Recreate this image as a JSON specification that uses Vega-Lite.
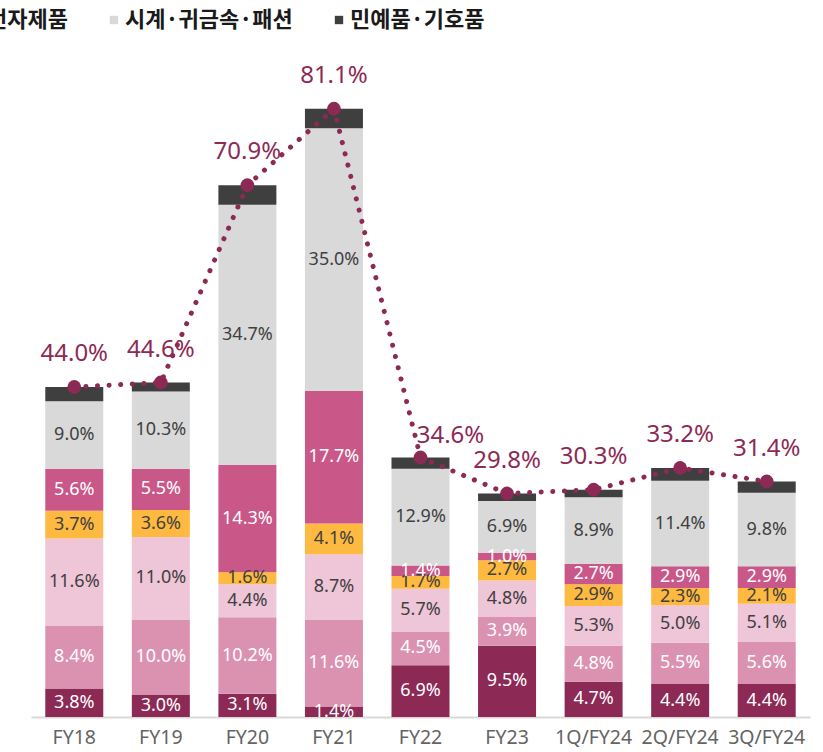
{
  "$schema": "https://vega.github.io/schema/vega-lite/v6.json",
  "width": 779,
  "height": 675,
  "autosize": {"type": "none"},
  "padding": {"left": 31, "top": 42, "right": 13, "bottom": 35},
  "background": "white",
  "config": {"view": {"stroke": null}, "font": "Noto Sans"},
  "datasets": {
    "seg": [
      {"p": "FY18", "s": "화장품·향수", "v": 3.8},
      {"p": "FY18", "s": "식품·음료·주류", "v": 8.4},
      {"p": "FY18", "s": "의약품·건강", "v": 11.6},
      {"p": "FY18", "s": "의류·잡화", "v": 3.7},
      {"p": "FY18", "s": "전자제품", "v": 5.6},
      {"p": "FY18", "s": "시계·귀금속·패션", "v": 9.0},
      {"p": "FY18", "s": "민예품·기호품", "v": 1.9},
      {"p": "FY19", "s": "화장품·향수", "v": 3.0},
      {"p": "FY19", "s": "식품·음료·주류", "v": 10.0},
      {"p": "FY19", "s": "의약품·건강", "v": 11.0},
      {"p": "FY19", "s": "의류·잡화", "v": 3.6},
      {"p": "FY19", "s": "전자제품", "v": 5.5},
      {"p": "FY19", "s": "시계·귀금속·패션", "v": 10.3},
      {"p": "FY19", "s": "민예품·기호품", "v": 1.2},
      {"p": "FY20", "s": "화장품·향수", "v": 3.1},
      {"p": "FY20", "s": "식품·음료·주류", "v": 10.2},
      {"p": "FY20", "s": "의약품·건강", "v": 4.4},
      {"p": "FY20", "s": "의류·잡화", "v": 1.6},
      {"p": "FY20", "s": "전자제품", "v": 14.3},
      {"p": "FY20", "s": "시계·귀금속·패션", "v": 34.7},
      {"p": "FY20", "s": "민예품·기호품", "v": 2.6},
      {"p": "FY21", "s": "화장품·향수", "v": 1.4},
      {"p": "FY21", "s": "식품·음료·주류", "v": 11.6},
      {"p": "FY21", "s": "의약품·건강", "v": 8.7},
      {"p": "FY21", "s": "의류·잡화", "v": 4.1},
      {"p": "FY21", "s": "전자제품", "v": 17.7},
      {"p": "FY21", "s": "시계·귀금속·패션", "v": 35.0},
      {"p": "FY21", "s": "민예품·기호품", "v": 2.6},
      {"p": "FY22", "s": "화장품·향수", "v": 6.9},
      {"p": "FY22", "s": "식품·음료·주류", "v": 4.5},
      {"p": "FY22", "s": "의약품·건강", "v": 5.7},
      {"p": "FY22", "s": "의류·잡화", "v": 1.7},
      {"p": "FY22", "s": "전자제품", "v": 1.4},
      {"p": "FY22", "s": "시계·귀금속·패션", "v": 12.9},
      {"p": "FY22", "s": "민예품·기호품", "v": 1.5},
      {"p": "FY23", "s": "화장품·향수", "v": 9.5},
      {"p": "FY23", "s": "식품·음료·주류", "v": 3.9},
      {"p": "FY23", "s": "의약품·건강", "v": 4.8},
      {"p": "FY23", "s": "의류·잡화", "v": 2.7},
      {"p": "FY23", "s": "전자제품", "v": 1.0},
      {"p": "FY23", "s": "시계·귀금속·패션", "v": 6.9},
      {"p": "FY23", "s": "민예품·기호품", "v": 1.0},
      {"p": "1Q/FY24", "s": "화장품·향수", "v": 4.7},
      {"p": "1Q/FY24", "s": "식품·음료·주류", "v": 4.8},
      {"p": "1Q/FY24", "s": "의약품·건강", "v": 5.3},
      {"p": "1Q/FY24", "s": "의류·잡화", "v": 2.9},
      {"p": "1Q/FY24", "s": "전자제품", "v": 2.7},
      {"p": "1Q/FY24", "s": "시계·귀금속·패션", "v": 8.9},
      {"p": "1Q/FY24", "s": "민예품·기호품", "v": 1.0},
      {"p": "2Q/FY24", "s": "화장품·향수", "v": 4.4},
      {"p": "2Q/FY24", "s": "식품·음료·주류", "v": 5.5},
      {"p": "2Q/FY24", "s": "의약품·건강", "v": 5.0},
      {"p": "2Q/FY24", "s": "의류·잡화", "v": 2.3},
      {"p": "2Q/FY24", "s": "전자제품", "v": 2.9},
      {"p": "2Q/FY24", "s": "시계·귀금속·패션", "v": 11.4},
      {"p": "2Q/FY24", "s": "민예품·기호품", "v": 1.7},
      {"p": "3Q/FY24", "s": "화장품·향수", "v": 4.4},
      {"p": "3Q/FY24", "s": "식품·음료·주류", "v": 5.6},
      {"p": "3Q/FY24", "s": "의약품·건강", "v": 5.1},
      {"p": "3Q/FY24", "s": "의류·잡화", "v": 2.1},
      {"p": "3Q/FY24", "s": "전자제품", "v": 2.9},
      {"p": "3Q/FY24", "s": "시계·귀금속·패션", "v": 9.8},
      {"p": "3Q/FY24", "s": "민예품·기호품", "v": 1.5}
    ],
    "tot": [
      {"p": "FY18", "t": 44.0},
      {"p": "FY19", "t": 44.6},
      {"p": "FY20", "t": 70.9},
      {"p": "FY21", "t": 81.1},
      {"p": "FY22", "t": 34.6},
      {"p": "FY23", "t": 29.8},
      {"p": "1Q/FY24", "t": 30.3},
      {"p": "2Q/FY24", "t": 33.2},
      {"p": "3Q/FY24", "t": 31.4}
    ]
  },
  "encoding": {
    "x": {
      "field": "p",
      "type": "nominal",
      "sort": ["FY18", "FY19", "FY20", "FY21", "FY22", "FY23", "1Q/FY24", "2Q/FY24", "3Q/FY24"],
      "scale": {"paddingInner": 0.33, "paddingOuter": 0.165},
      "axis": {
        "title": null,
        "labelAngle": 0,
        "ticks": false,
        "domainColor": "#d9d9d9",
        "domainWidth": 2,
        "labelPadding": 11,
        "labelColor": "#646464",
        "labelFontSize": 19.5,
        "labelFont": "Noto Sans"
      }
    }
  },
  "layer": [
    {
      "data": {"name": "seg"},
      "transform": [
        {"calculate": "indexof(['화장품·향수','식품·음료·주류','의약품·건강','의류·잡화','전자제품','시계·귀금속·패션','민예품·기호품'], datum.s)", "as": "k"},
        {"stack": "v", "groupby": ["p"], "sort": [{"field": "k", "order": "ascending"}], "as": ["y0", "y1"]},
        {"calculate": "(datum.y0 + datum.y1) / 2", "as": "ym"},
        {"calculate": "format(datum.v, '.1f') + '%'", "as": "lab"}
      ],
      "layer": [
        {
          "mark": {"type": "bar"},
          "encoding": {
            "y": {"field": "y0", "type": "quantitative", "scale": {"domain": [0, 90]}, "axis": null},
            "y2": {"field": "y1"},
            "color": {
              "field": "s",
              "type": "nominal",
              "scale": {
                "domain": ["화장품·향수", "식품·음료·주류", "의약품·건강", "의류·잡화", "전자제품", "시계·귀금속·패션", "민예품·기호품"],
                "range": ["#8C2A55", "#DB92B0", "#EFC5D8", "#FEB941", "#C95788", "#D9D9D9", "#3F3F3F"]
              },
              "legend": {
                "values": ["전자제품", "시계·귀금속·패션", "민예품·기호품"],
                "orient": "none",
                "legendX": -66,
                "legendY": -33,
                "direction": "horizontal",
                "title": null,
                "padding": 0,
                "symbolType": "square",
                "symbolSize": 70,
                "symbolStrokeWidth": 0,
                "labelFontSize": 22,
                "labelFont": "Noto Sans CJK KR",
                "labelFontWeight": "bold",
                "labelColor": "#1a1a1a",
                "labelOffset": 0,
                "columnPadding": 35,
                "labelLimit": 400
              }
            }
          }
        },
        {
          "transform": [{"filter": "datum.s != '민예품·기호품'"}],
          "mark": {"type": "text", "clip": true, "fontSize": 18, "font": "Noto Sans", "baseline": "middle"},
          "encoding": {
            "y": {"field": "ym", "type": "quantitative", "scale": {"domain": [0, 90]}},
            "text": {"field": "lab"},
            "color": {
              "condition": {"test": "datum.s == '화장품·향수' || datum.s == '식품·음료·주류' || datum.s == '전자제품'", "value": "white"},
              "value": "#404040"
            }
          }
        }
      ]
    },
    {
      "data": {"name": "tot"},
      "transform": [
        {"calculate": "format(datum.t, '.1f') + '%'", "as": "lab"}
      ],
      "layer": [
        {
          "transform": [{"filter": "datum.p != 'FY22'"}],
          "mark": {"type": "text", "fontSize": 24, "font": "Noto Sans", "color": "#8C2A55", "dy": -33, "baseline": "middle"},
          "encoding": {
            "y": {"field": "t", "type": "quantitative", "scale": {"domain": [0, 90]}},
            "text": {"field": "lab"}
          }
        },
        {
          "transform": [{"filter": "datum.p == 'FY22'"}],
          "mark": {"type": "text", "fontSize": 24, "font": "Noto Sans", "color": "#8C2A55", "dy": -22, "dx": 30, "baseline": "middle"},
          "encoding": {
            "y": {"field": "t", "type": "quantitative", "scale": {"domain": [0, 90]}},
            "text": {"field": "lab"}
          }
        },
        {
          "mark": {"type": "line", "color": "#8C2A55", "strokeWidth": 5, "strokeDash": [0.1, 11.5], "strokeCap": "round"},
          "encoding": {
            "y": {"field": "t", "type": "quantitative", "scale": {"domain": [0, 90]}}
          }
        },
        {
          "mark": {"type": "circle", "color": "#8C2A55", "opacity": 1, "size": 190},
          "encoding": {
            "y": {"field": "t", "type": "quantitative", "scale": {"domain": [0, 90]}}
          }
        }
      ]
    }
  ]
}
